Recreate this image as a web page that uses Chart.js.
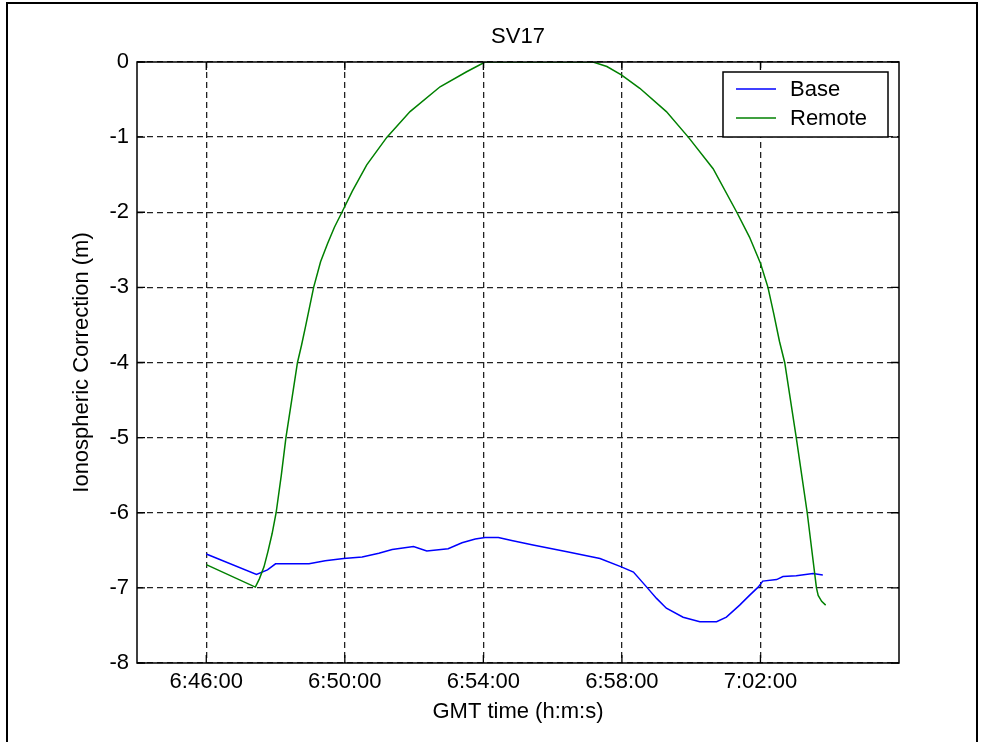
<!DOCTYPE html>
<html><head><meta charset="utf-8">
<script src="https://cdn.jsdelivr.net/npm/chart.js@4/dist/chart.umd.min.js"></script>
<style>html,body{margin:0;padding:0;background:#fff;overflow:hidden}canvas{display:block}</style>
</head><body>
<canvas id="c" width="982" height="742"></canvas>
<script>
// ---- data ----
const chartTitle = 'SV17';
const xAxisTitle = 'GMT time (h:m:s)';
const yAxisTitle = 'Ionospheric Correction (m)';
const seriesNames = ['Base', 'Remote'];
const xTickLabels = ['6:46:00', '6:50:00', '6:54:00', '6:58:00', '7:02:00'];
const xRange = ['6:44:00', '7:06:00'];
const yRange = [-8, 0];

const baseTimes = ['6:46:00','6:47:27','6:47:46','6:48:00','6:48:58','6:49:26','6:49:58','6:50:30','6:50:59','6:51:22',
  '6:51:59','6:52:22','6:52:59','6:53:23','6:53:46','6:54:03','6:54:26','6:54:49','6:55:26','6:56:25',
  '6:57:22','6:57:59','6:58:20','6:58:43','6:59:00','6:59:17','6:59:46','7:00:15','7:00:44','7:01:01',
  '7:01:24','7:01:41','7:01:56','7:02:04','7:02:28','7:02:39','7:03:02','7:03:31','7:03:48'];
const baseValues = [-6.55,-6.82,-6.76,-6.68,-6.68,-6.64,-6.61,-6.59,-6.54,-6.49,
  -6.45,-6.51,-6.48,-6.40,-6.35,-6.33,-6.33,-6.37,-6.43,-6.52,
  -6.61,-6.72,-6.79,-6.99,-7.14,-7.27,-7.39,-7.45,-7.45,-7.39,
  -7.23,-7.10,-6.99,-6.91,-6.89,-6.85,-6.84,-6.81,-6.83];

const remoteTimes = ['6:46:00','6:47:25','6:47:32','6:47:40','6:47:47','6:47:54','6:48:01','6:48:10','6:48:18','6:48:28',
  '6:48:38','6:48:45','6:48:52','6:49:06','6:49:18','6:49:30','6:49:42','6:49:55','6:50:13','6:50:38',
  '6:51:13','6:51:53','6:52:45','6:53:31','6:54:03','6:57:10','6:57:34','6:57:59','6:58:31','6:59:17',
  '6:59:55','7:00:38','7:01:19','7:01:41','7:02:00','7:02:13','7:02:23','7:02:33','7:02:42','7:03:02',
  '7:03:21','7:03:37','7:03:40','7:03:46','7:03:53'];
const remoteValues = [-6.69,-6.99,-6.88,-6.72,-6.51,-6.28,-6.00,-5.50,-5.00,-4.50,
  -4.00,-3.77,-3.52,-3.00,-2.66,-2.42,-2.20,-2.00,-1.72,-1.37,
  -1.00,-0.66,-0.33,-0.13,0,0,-0.06,-0.17,-0.35,-0.66,
  -1.00,-1.42,-2.00,-2.33,-2.68,-3.00,-3.35,-3.72,-4.00,-5.00,
  -6.00,-7.00,-7.10,-7.18,-7.23];

// ---- helpers ----
function toSec(s){const p=s.split(':').map(Number);return p[0]*3600+p[1]*60+p[2];}
function fmt(v){const h=Math.floor(v/3600),m=Math.floor((v%3600)/60),s=Math.round(v%60);
  return h+':'+String(m).padStart(2,'0')+':'+String(s).padStart(2,'0');}
function pts(times, vals){return times.map((t,i)=>({x:toSec(t),y:vals[i]}));}

const FONT = {family:'"Liberation Sans", Arial, sans-serif', size:22};

const framePlugin = {
  id:'frame',
  afterDraw(chart){
    const {ctx, chartArea:a, scales} = chart;
    ctx.save();
    ctx.strokeStyle='#000';
    // inward tick marks on all four sides
    ctx.lineWidth=1.3;
    const tl=8;
    ctx.beginPath();
    scales.x.ticks.forEach(t=>{
      const x=scales.x.getPixelForValue(t.value);
      ctx.moveTo(x,a.bottom); ctx.lineTo(x,a.bottom-tl);
      ctx.moveTo(x,a.top); ctx.lineTo(x,a.top+tl);
    });
    scales.y.ticks.forEach(t=>{
      const y=scales.y.getPixelForValue(t.value);
      ctx.moveTo(a.left,y); ctx.lineTo(a.left+tl,y);
      ctx.moveTo(a.right,y); ctx.lineTo(a.right-tl,y);
    });
    ctx.stroke();
    // axes box
    ctx.lineWidth=1.5;
    ctx.strokeRect(a.left, a.top, a.right-a.left, a.bottom-a.top);
    // legend box (inside top-right of plot)
    const bw=165,bh=65,bx=a.right-11-bw,by=a.top+10;
    ctx.fillStyle='#fff';
    ctx.fillRect(bx,by,bw,bh);
    ctx.lineWidth=1.5;
    ctx.strokeRect(bx,by,bw,bh);
    ctx.font=FONT.size+'px '+FONT.family;
    ctx.textBaseline='middle';
    ctx.textAlign='left';
    chart.data.datasets.forEach((ds,i)=>{
      const y=by+17+i*29;
      ctx.strokeStyle=ds.borderColor; ctx.lineWidth=1.5;
      ctx.beginPath(); ctx.moveTo(bx+13,y); ctx.lineTo(bx+53,y); ctx.stroke();
      ctx.fillStyle='#000'; ctx.fillText(ds.label,bx+67,y+1);
    });
    // figure frame
    ctx.strokeStyle='#000'; ctx.lineWidth=2;
    ctx.beginPath();
    ctx.moveTo(7,760); ctx.lineTo(7,3); ctx.lineTo(977,3); ctx.lineTo(977,760);
    ctx.stroke();
    ctx.restore();
  }
};

new Chart(document.getElementById('c'), {
  type:'line',
  data:{datasets:[
    {label:seriesNames[0], data:pts(baseTimes,baseValues), borderColor:'#0000ff', borderWidth:1.5, pointRadius:0, tension:0, order:1},
    {label:seriesNames[1], data:pts(remoteTimes,remoteValues), borderColor:'#008000', borderWidth:1.5, pointRadius:0, tension:0, order:0}
  ]},
  options:{
    responsive:false, animation:false, devicePixelRatio:1,
    layout:{padding:{left:54,right:0,top:0,bottom:0}},
    plugins:{
      legend:{display:false},
      tooltip:{enabled:false},
      title:{display:true, text:chartTitle, color:'#000', font:{...FONT, weight:'normal'}, padding:{top:24,bottom:11.6}}
    },
    scales:{
      x:{type:'linear', min:toSec(xRange[0]), max:toSec(xRange[1]),
        afterBuildTicks:s=>{s.ticks=xTickLabels.map(l=>({value:toSec(l)}));},
        afterFit:s=>{s.height=79;},
        ticks:{color:'#000', font:FONT, padding:6, maxRotation:0, autoSkip:false, callback:v=>fmt(v)},
        grid:{color:'#222', lineWidth:1.3, drawTicks:false},
        border:{display:false, dash:[6,4]},
        title:{display:true, text:xAxisTitle, color:'#000', font:FONT, padding:{top:0,bottom:16.8}}
      },
      y:{type:'linear', position:'left', min:yRange[0], max:yRange[1],
        afterFit:s=>{s.width=83;},
        ticks:{color:'#000', font:FONT, padding:8, stepSize:1, callback:v=>String(v)},
        grid:{color:'#222', lineWidth:1.3, drawTicks:false},
        border:{display:false, dash:[6,4]},
        title:{display:true, text:yAxisTitle, color:'#000', font:FONT, padding:{top:14.8,bottom:0}}
      },
      yRightSpace:{type:'linear', position:'right', min:yRange[0], max:yRange[1],
        afterFit:s=>{s.width=83;},
        ticks:{display:false},
        grid:{display:false, drawTicks:false},
        border:{display:false}
      }
    }
  },
  plugins:[framePlugin]
});
</script>
</body></html>
